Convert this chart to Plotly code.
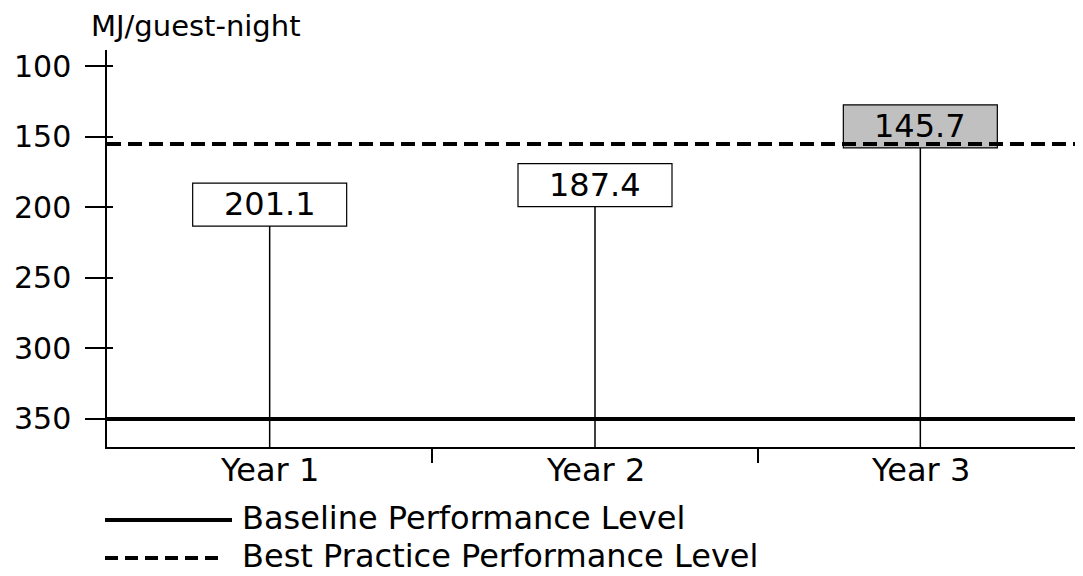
import plotly.graph_objects as go

# ---- data ----
categories = ["Year 1", "Year 2", "Year 3"]
values = [201.1, 187.4, 145.7]
value_labels = ["201.1", "187.4", "145.7"]
baseline_level = 350
best_practice_level = 155
y_ticks = [100, 150, 200, 250, 300, 350]
y_title = "MJ/guest-night"
legend_labels = ["Baseline Performance Level", "Best Practice Performance Level"]

FONT = "DejaVu Sans"
FS_TICK = 30
FS = 32
Y_RANGE = [369.9, 88.3]   # reversed axis (bottom, top)

xs = list(range(len(categories)))

fig = go.Figure()

# stems from axis bottom to each value
stem_x, stem_y = [], []
for x, v in zip(xs, values):
    stem_x += [x, x, None]
    stem_y += [Y_RANGE[0], v, None]
fig.add_trace(go.Scatter(x=stem_x, y=stem_y, mode="lines",
                         line=dict(color="black", width=1.5),
                         hoverinfo="skip", showlegend=False))

# legend / label placement helpers (reference pixel -> paper coords)
W, H = 976, 397
def px_x(p):
    return (p - 107) / W
def px_y(p):
    return (447 - p) / H

shapes = []
annotations = []
# label boxes (gray if better than best practice)
for x, v, lab in zip(xs, values, value_labels):
    fill = "#c0c0c0" if v <= best_practice_level else "white"
    shapes.append(dict(
        type="rect", xref="x", yref="y",
        xsizemode="pixel", xanchor=x, x0=-77, x1=77,
        ysizemode="pixel", yanchor=v, y0=-17, y1=26,
        fillcolor=fill, line=dict(color="black", width=1.2),
        layer="above"))
    annotations.append(dict(text=lab, x=x, y=v, xref="x", yref="y",
                            yshift=5, showarrow=False,
                            xanchor="center", yanchor="middle",
                            font=dict(family=FONT, size=FS, color="black")))

# category labels under the axis
for x, cat in zip(xs, categories):
    annotations.append(dict(text=cat, x=x, y=px_y(470), xref="x", yref="paper",
                            showarrow=False, xanchor="center", yanchor="middle",
                            font=dict(family=FONT, size=FS, color="black")))

# reference lines
shapes.append(dict(type="line", xref="paper", yref="y", x0=0, x1=1,
                   y0=baseline_level, y1=baseline_level,
                   line=dict(color="black", width=4), layer="above"))
shapes.append(dict(type="line", xref="paper", yref="y", x0=0, x1=1,
                   y0=best_practice_level, y1=best_practice_level,
                   line=dict(color="black", width=4, dash="14px,7px"), layer="above"))

# legend (drawn manually below the axis)
shapes.append(dict(type="line", xref="paper", yref="paper",
                   x0=px_x(105), x1=px_x(232), y0=px_y(520), y1=px_y(520),
                   line=dict(color="black", width=4)))
shapes.append(dict(type="line", xref="paper", yref="paper",
                   x0=px_x(105), x1=px_x(222), y0=px_y(558), y1=px_y(558),
                   line=dict(color="black", width=4, dash="13px,7px")))

annotations += [
    dict(text=legend_labels[0], xref="paper", yref="paper", x=px_x(240), y=px_y(518),
         xanchor="left", yanchor="middle", showarrow=False,
         font=dict(family=FONT, size=FS, color="black")),
    dict(text=legend_labels[1], xref="paper", yref="paper", x=px_x(240), y=px_y(556),
         xanchor="left", yanchor="middle", showarrow=False,
         font=dict(family=FONT, size=FS, color="black")),
    dict(text=y_title, xref="paper", yref="paper", x=px_x(89), y=px_y(26),
         xanchor="left", yanchor="middle", showarrow=False,
         font=dict(family=FONT, size=29, color="black")),
]

# page body has an 8px margin, so the figure is 8px smaller and offset
fig.update_layout(
    width=1075, height=568,
    margin=dict(l=99, r=0, t=42, b=129, autoexpand=False),
    paper_bgcolor="white", plot_bgcolor="white",
    showlegend=False,
    shapes=shapes, annotations=annotations,
    font=dict(family=FONT, size=FS, color="black"),
    xaxis=dict(range=[-0.5, 2.5], tickmode="array", tickvals=xs, ticktext=[""] * len(xs),
               ticks="", showline=True, linecolor="black", linewidth=1.5,
               showgrid=False, zeroline=False, automargin=False,
               minor=dict(tickmode="array", tickvals=[0.5, 1.5], ticks="outside",
                          ticklen=14, tickwidth=1.5, tickcolor="black", showgrid=False)),
    yaxis=dict(range=Y_RANGE, tickmode="array", tickvals=y_ticks,
               ticks="outside", ticklen=20, tickwidth=1.5, tickcolor="black",
               showline=True, linecolor="black", linewidth=1.5,
               showgrid=False, zeroline=False, ticklabelstandoff=8, automargin=False,
               tickfont=dict(family=FONT, size=FS_TICK, color="black"),
               minor=dict(tickmode="array", tickvals=y_ticks, ticks="inside",
                          ticklen=6, tickwidth=1.5, tickcolor="black", showgrid=False)),
)

fig.write_html("out.html")
